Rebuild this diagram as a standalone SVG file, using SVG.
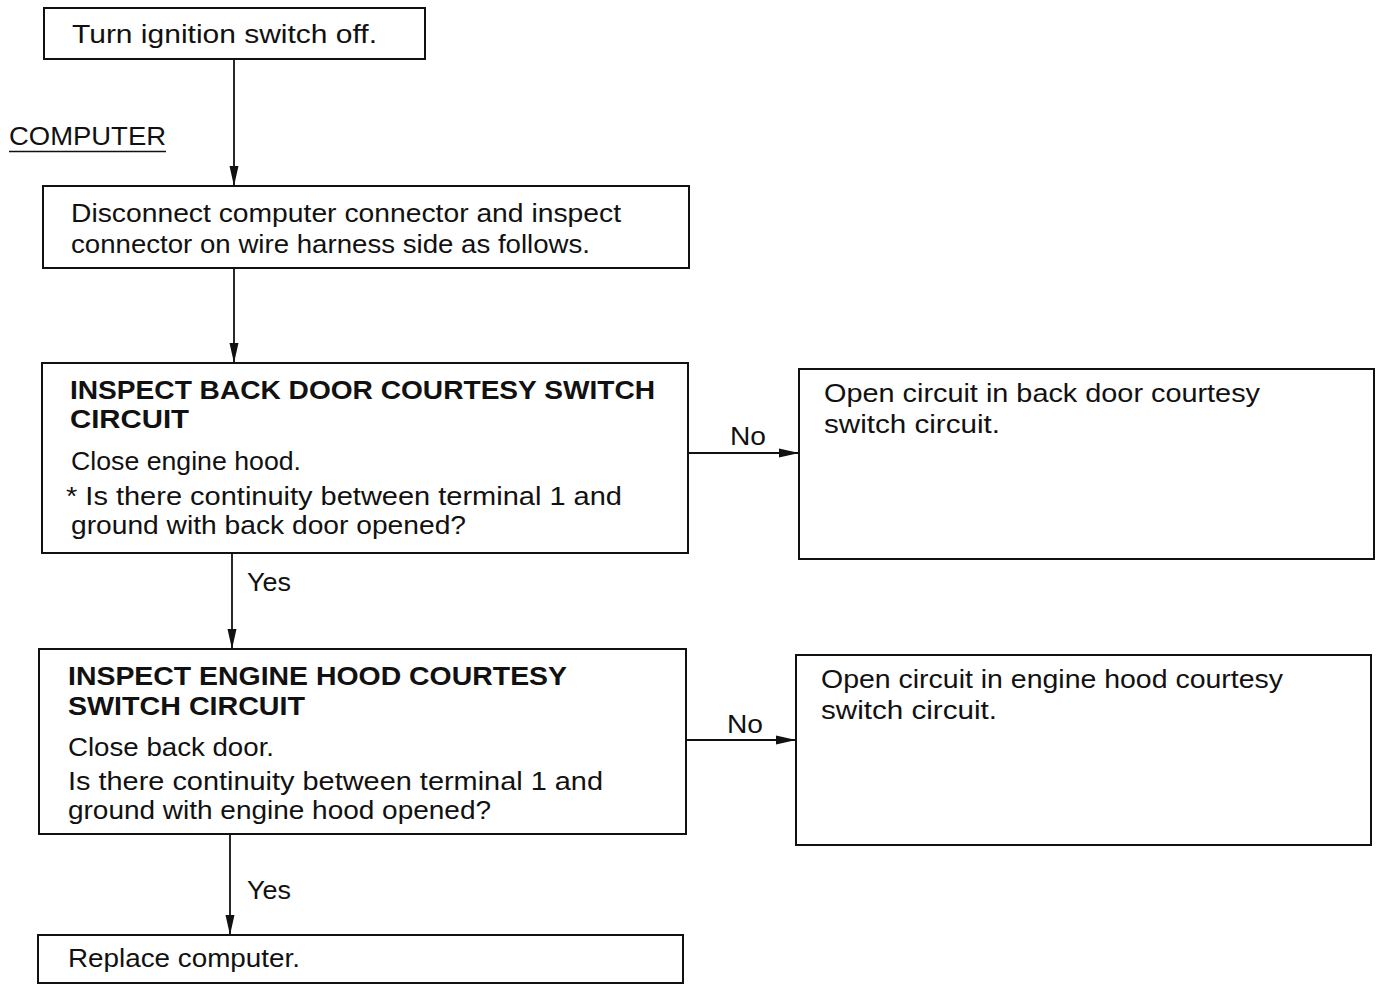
<svg xmlns="http://www.w3.org/2000/svg" width="1377" height="985" viewBox="0 0 1377 985">
<defs>
<style>
.box{fill:#fff;stroke:#111;stroke-width:2}
.t{font-family:"Liberation Sans",Arial,sans-serif;font-size:26px;fill:#111}
.b{font-weight:bold}
.c{stroke:#111;stroke-width:1.8;fill:none}
</style>
<marker id="ah" viewBox="0 0 20 10" refX="20" refY="5" markerWidth="20" markerHeight="10" markerUnits="userSpaceOnUse" orient="auto">
<path d="M0,0.5 L20,5 L0,9.5 Z" fill="#111"/>
</marker>
</defs>
<rect width="1377" height="985" fill="#fff"/>
<g id="connectors">
<line class="c" x1="234" y1="59" x2="234" y2="186" marker-end="url(#ah)"/>
<line class="c" x1="234" y1="268" x2="234" y2="363" marker-end="url(#ah)"/>
<line class="c" x1="688" y1="453" x2="799" y2="453" marker-end="url(#ah)"/>
<text class="t" x="730" y="445" textLength="36" lengthAdjust="spacingAndGlyphs">No</text>
<line class="c" x1="232" y1="553" x2="232" y2="649" marker-end="url(#ah)"/>
<text class="t" x="247" y="591" textLength="44" lengthAdjust="spacingAndGlyphs">Yes</text>
<line class="c" x1="686" y1="740" x2="796" y2="740" marker-end="url(#ah)"/>
<text class="t" x="727" y="733" textLength="36" lengthAdjust="spacingAndGlyphs">No</text>
<line class="c" x1="230" y1="834" x2="230" y2="935" marker-end="url(#ah)"/>
<text class="t" x="247" y="899" textLength="44" lengthAdjust="spacingAndGlyphs">Yes</text>
</g>
<g id="label-computer">
<text class="t" x="9" y="145" textLength="157" lengthAdjust="spacingAndGlyphs">COMPUTER</text>
<line x1="9" y1="151.5" x2="166" y2="151.5" stroke="#111" stroke-width="1.5"/>
</g>
<g id="n1">
<rect class="box" x="44" y="8" width="381" height="51"/>
<text class="t" x="72" y="43" textLength="305" lengthAdjust="spacingAndGlyphs">Turn ignition switch off.</text>
</g>
<g id="n2">
<rect class="box" x="43" y="186" width="646" height="82"/>
<text class="t" x="71" y="222" textLength="550" lengthAdjust="spacingAndGlyphs">Disconnect computer connector and inspect</text>
<text class="t" x="71" y="253" textLength="519" lengthAdjust="spacingAndGlyphs">connector on wire harness side as follows.</text>
</g>
<g id="n3">
<rect class="box" x="42" y="363" width="646" height="190"/>
<text class="t b" x="70" y="399" textLength="585" lengthAdjust="spacingAndGlyphs">INSPECT BACK DOOR COURTESY SWITCH</text>
<text class="t b" x="70" y="428" textLength="119" lengthAdjust="spacingAndGlyphs">CIRCUIT</text>
<text class="t" x="71" y="470" textLength="230" lengthAdjust="spacingAndGlyphs">Close engine hood.</text>
<text class="t" x="66" y="505" textLength="556" lengthAdjust="spacingAndGlyphs">* Is there continuity between terminal 1 and</text>
<text class="t" x="71" y="534" textLength="395" lengthAdjust="spacingAndGlyphs">ground with back door opened?</text>
</g>
<g id="n4">
<rect class="box" x="799" y="369" width="575" height="190"/>
<text class="t" x="824" y="402" textLength="436" lengthAdjust="spacingAndGlyphs">Open circuit in back door courtesy</text>
<text class="t" x="824" y="433" textLength="176" lengthAdjust="spacingAndGlyphs">switch circuit.</text>
</g>
<g id="n5">
<rect class="box" x="39" y="649" width="647" height="185"/>
<text class="t b" x="68" y="685" textLength="499" lengthAdjust="spacingAndGlyphs">INSPECT ENGINE HOOD COURTESY</text>
<text class="t b" x="68" y="715" textLength="237" lengthAdjust="spacingAndGlyphs">SWITCH CIRCUIT</text>
<text class="t" x="68" y="756" textLength="206" lengthAdjust="spacingAndGlyphs">Close back door.</text>
<text class="t" x="68" y="790" textLength="535" lengthAdjust="spacingAndGlyphs">Is there continuity between terminal 1 and</text>
<text class="t" x="68" y="819" textLength="423" lengthAdjust="spacingAndGlyphs">ground with engine hood opened?</text>
</g>
<g id="n6">
<rect class="box" x="796" y="655" width="575" height="190"/>
<text class="t" x="821" y="688" textLength="462" lengthAdjust="spacingAndGlyphs">Open circuit in engine hood courtesy</text>
<text class="t" x="821" y="719" textLength="176" lengthAdjust="spacingAndGlyphs">switch circuit.</text>
</g>
<g id="n7">
<rect class="box" x="38" y="935" width="645" height="48"/>
<text class="t" x="68" y="967" textLength="232" lengthAdjust="spacingAndGlyphs">Replace computer.</text>
</g>
</svg>
